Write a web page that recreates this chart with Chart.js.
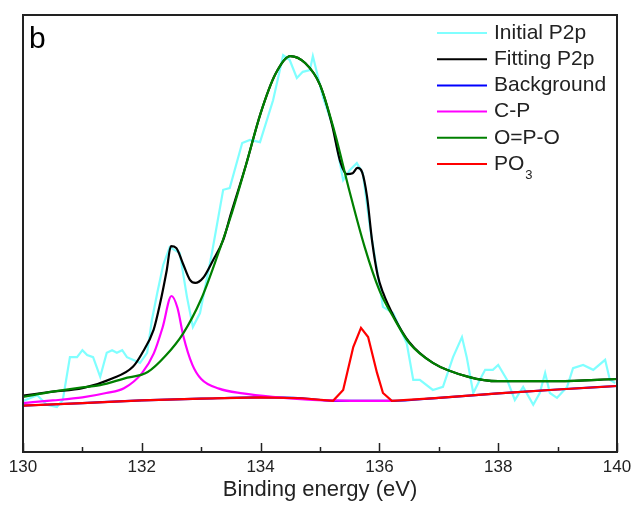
<!DOCTYPE html>
<html>
<head>
<meta charset="utf-8">
<script src="https://cdn.jsdelivr.net/npm/chart.js@4.4.1/dist/chart.umd.min.js"></script>
<style>
  html, body { margin: 0; padding: 0; background: #fff; }
  #wrap { width: 633px; height: 505px; }
</style>
</head>
<body>
<div id="wrap"><canvas id="xps-chart"></canvas></div>
<script>
// Values (intensity in a.u., 0 = bottom of the frame)
const majorTicks = [130, 132, 134, 136, 138, 140];
const minorTicks = [131, 133, 135, 137, 139];

// Initial P2p (raw data)
const initialX = [130.0, 130.24, 130.40, 130.57, 130.67, 130.79, 130.91, 131.00, 131.08, 131.18,
  131.30, 131.41, 131.50, 131.58, 131.67, 131.75, 131.85, 131.97, 132.09, 132.17,
  132.26, 132.36, 132.47, 132.64, 132.76, 132.86, 132.98, 133.18, 133.37, 133.48,
  133.69, 133.82, 133.99, 134.21, 134.38, 134.49, 134.61, 134.71, 134.83, 134.88,
  135.05, 135.22, 135.39, 135.50, 135.62, 135.72, 135.84, 135.96, 136.06, 136.23,
  136.46, 136.57, 136.68, 136.90, 137.07, 137.24, 137.39, 137.47, 137.58, 137.69,
  137.78, 137.91, 138.00, 138.15, 138.28, 138.42, 138.59, 138.70, 138.79, 138.87,
  138.99, 139.16, 139.26, 139.43, 139.60, 139.80, 139.88, 139.97];
const initialY = [11.7, 13.0, 10.8, 10.3, 11.9, 21.7, 21.7, 23.3, 22.2, 21.7,
  17.2, 22.7, 23.3, 22.7, 23.3, 21.7, 21.1, 20.4, 22.7, 30.2,
  36.4, 42.8, 46.9, 45.5, 35.5, 28.6, 31.8, 45.5, 60.0, 60.4,
  70.7, 71.4, 70.9, 80.5, 90.8, 89.7, 85.6, 87.0, 87.4, 90.6,
  81.2, 74.4, 62.2, 64.5, 66.1, 63.8, 51.5, 41.6, 33.2, 31.8,
  24.9, 16.5, 16.5, 14.2, 14.9, 21.7, 26.3, 21.7, 13.5, 16.5,
  18.8, 18.8, 19.9, 16.5, 11.9, 14.9, 10.8, 13.5, 18.1, 13.5,
  12.4, 14.9, 19.2, 19.9, 18.8, 21.1, 16.5, 15.8];

// Fitting P2p
const fitX = [130, 130.5, 131, 131.5, 131.85, 132, 132.2, 132.3, 132.42, 132.49,
  132.58, 132.69, 132.81, 132.9, 133.03, 133.2, 133.37, 133.5, 133.75, 134,
  134.25, 134.5, 134.75, 135, 135.2, 135.34, 135.45, 135.55, 135.63, 135.71,
  135.79, 135.88, 135.97, 136.06, 136.25, 136.5, 136.9, 137.5, 138, 139, 140];
const fitY = [12.9, 13.8, 14.6, 16.8, 19.5, 22.5, 28.0, 33.5, 41.6, 47.1,
  46.7, 43.2, 39.4, 38.7, 39.8, 43.9, 48.5, 54.5, 65.5, 77.5,
  86.5, 90.6, 89.0, 84.0, 75.0, 66.5, 63.6, 63.8, 65.0, 64.0,
  58.6, 48.0, 40.5, 36.5, 30.8, 25.2, 20.4, 17.2, 16.2, 16.2, 16.7];

// Background
const bgX = [130, 131, 132, 133, 134, 134.7, 135.22, 136.21, 137, 138, 139, 140];
const bgY = [10.6, 11.2, 11.8, 12.2, 12.5, 12.3, 11.7, 11.7, 12.4, 13.4, 14.3, 15.1];

// C-P
const cpX = [130, 130.5, 131, 131.4, 131.7, 132, 132.2, 132.35, 132.5, 132.6,
  132.7, 132.85, 133, 133.3, 133.7, 134.2, 134.8, 135.2, 135.6, 136.2];
const cpY = [11.2, 11.8, 12.5, 13.5, 14.6, 18.0, 22.5, 28.5, 35.7, 33.0,
  26.5, 20.0, 16.7, 14.5, 13.4, 12.6, 12.0, 11.8, 11.7, 11.7];

// O=P-O
const opoX = [130, 130.5, 131, 131.3, 131.7, 132.1, 132.4, 132.7, 133, 133.25,
  133.5, 133.75, 134, 134.25, 134.5, 134.75, 135, 135.25, 135.5, 135.75,
  136, 136.25, 136.5, 136.9, 137.5, 138, 139, 140];
const opoY = [12.6, 13.8, 14.8, 15.3, 16.8, 18.3, 22.0, 27.2, 35.0, 44.0,
  54.0, 65.5, 77.5, 86.5, 90.6, 89.0, 84.0, 73.0, 59.5, 47.0,
  37.0, 30.5, 25.0, 20.4, 17.2, 16.2, 16.2, 16.7];

// PO3
const po3X = [130, 131, 132, 133, 134, 134.7, 135.22, 135.39, 135.56, 135.69,
  135.81, 135.96, 136.06, 136.21, 137, 138, 139, 140];
const po3Y = [10.6, 11.2, 11.8, 12.2, 12.5, 12.3, 11.7, 14.2, 24.0, 28.4,
  26.3, 18.1, 13.5, 11.7, 12.4, 13.4, 14.3, 15.1];

const toPoints = (xs, ys) => xs.map((x, i) => ({ x: x, y: ys[i] }));
const FONT = "Arial, 'Liberation Sans', sans-serif";

// Frame, inward ticks, panel letter and legend
const framePlugin = {
  id: "frame",
  afterDraw(chart) {
    const { ctx, chartArea: a, scales } = chart;
    ctx.save();
    ctx.strokeStyle = "#222";
    ctx.lineWidth = 2;
    ctx.strokeRect(a.left, a.top, a.right - a.left, a.bottom - a.top);

    ctx.lineWidth = 1.5;
    const tick = (v, len) => {
      const px = Math.round(scales.x.getPixelForValue(v)) + 0.5;
      ctx.beginPath();
      ctx.moveTo(px, a.bottom);
      ctx.lineTo(px, a.bottom - len);
      ctx.stroke();
    };
    majorTicks.forEach((v) => tick(v, 9));
    minorTicks.forEach((v) => tick(v, 5));

    ctx.fillStyle = "#000";
    ctx.font = "30px " + FONT;
    ctx.textBaseline = "alphabetic";
    ctx.fillText("b", 29, 48);

    // legend
    ctx.textBaseline = "middle";
    chart.data.datasets.forEach((ds, i) => {
      const y = 33 + i * 26.2;
      ctx.strokeStyle = ds.borderColor;
      ctx.lineWidth = 2;
      ctx.beginPath();
      ctx.moveTo(437, y);
      ctx.lineTo(487, y);
      ctx.stroke();
      ctx.fillStyle = "#222";
      ctx.font = "21px " + FONT;
      ctx.fillText(ds.legendText, 494, y);
      if (ds.legendSub) {
        const w = ctx.measureText(ds.legendText).width;
        ctx.font = "13px " + FONT;
        ctx.fillText(ds.legendSub, 494 + w + 1, y + 11);
      }
    });
    ctx.restore();
  },
};

const makeSet = (label, xs, ys, color, order, tension, extra) =>
  Object.assign(
    {
      label: label,
      legendText: label,
      data: toPoints(xs, ys),
      borderColor: color,
      borderWidth: 2.2,
      pointRadius: 0,
      fill: false,
      order: order,
      tension: tension,
      cubicInterpolationMode: tension ? "monotone" : "default",
    },
    extra || {}
  );

const xpsChart = document.querySelector("#xps-chart");
if (xpsChart) {
  new Chart(xpsChart, {
    type: "line",
    data: {
      datasets: [
        makeSet("Initial P2p", initialX, initialY, "#80FFFF", 6, 0),
        makeSet("Fitting P2p", fitX, fitY, "#000000", 5, 0.4),
        makeSet("Background", bgX, bgY, "#0000FF", 4, 0.4),
        makeSet("C-P", cpX, cpY, "#FF00FF", 3, 0.4),
        makeSet("O=P-O", opoX, opoY, "#008000", 2, 0.4),
        makeSet("PO3", po3X, po3Y, "#FF0000", 1, 0, { legendText: "PO", legendSub: "3" }),
      ],
    },
    options: {
      responsive: true,
      maintainAspectRatio: false,
      animation: false,
      layout: { padding: { left: 23, right: 16, top: 15, bottom: 0 } },
      plugins: {
        legend: { display: false },
        tooltip: { enabled: false },
      },
      scales: {
        x: {
          type: "linear",
          min: 130,
          max: 140,
          afterBuildTicks: (axis) => {
            axis.ticks = majorTicks.map((v) => ({ value: v }));
          },
          afterFit: (axis) => {
            axis.height = 53;
            axis.paddingLeft = 0;
            axis.paddingRight = 0;
          },
          grid: { display: false, drawTicks: false },
          border: { display: false },
          ticks: {
            padding: 5,
            color: "#222",
            maxRotation: 0,
            font: { family: FONT, size: 17 },
          },
          title: {
            display: true,
            text: "Binding energy (eV)",
            color: "#222",
            font: { family: FONT, size: 22 },
            padding: { top: 0, bottom: 2 },
          },
        },
        y: {
          display: false,
          min: 0,
          max: 100,
        },
      },
    },
    plugins: [framePlugin],
  });
}
</script>
</body>
</html>
